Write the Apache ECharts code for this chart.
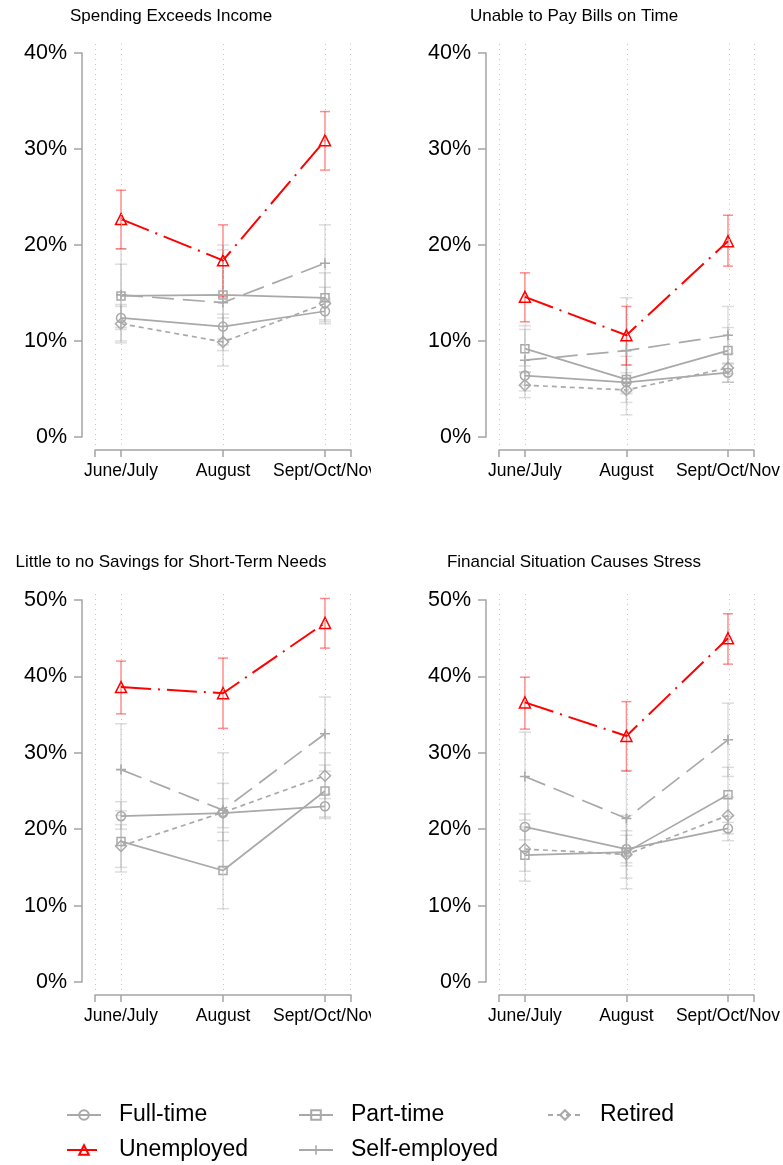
<!DOCTYPE html>
<html>
<head>
<meta charset="utf-8">
<script src="https://cdn.jsdelivr.net/npm/echarts@6/dist/echarts.min.js"></script>
<style>
  html, body { margin: 0; padding: 0; background: #fff; }
  #chart { width: 783px; height: 1165px; }
</style>
</head>
<body>
<div id="chart"></div>
<script>
// Survey waves (x positions 0, 1, 2)
const waves = ['June/July', 'August', 'Sept/Oct/Nov'];
const groups = ['Full-time', 'Part-time', 'Retired', 'Unemployed', 'Self-employed'];
const panelTitles = ['Spending Exceeds Income', 'Unable to Pay Bills on Time',
                     'Little to no Savings for Short-Term Needs', 'Financial Situation Causes Stress'];
const yTickMax = [40, 40, 50, 50];

// Spending Exceeds Income (% of group), with 95% interval bounds
const spendFullTime = [12.4, 11.5, 13.1];
const spendFullTimeLo = [11.2, 10.2, 11.8];
const spendFullTimeHi = [13.6, 12.8, 14.4];
const spendPartTime = [14.7, 14.8, 14.5];
const spendPartTimeLo = [11.4, 9.6, 12.0];
const spendPartTimeHi = [18.0, 20.0, 17.1];
const spendRetired = [11.8, 9.9, 13.9];
const spendRetiredLo = [9.8, 7.4, 12.2];
const spendRetiredHi = [13.8, 12.4, 15.6];
const spendUnemployed = [22.7, 18.4, 30.9];
const spendUnemployedLo = [19.6, 14.6, 27.8];
const spendUnemployedHi = [25.7, 22.1, 33.9];
const spendSelfEmployed = [14.8, 14.0, 18.1];
const spendSelfEmployedLo = [10.0, 9.0, 14.1];
const spendSelfEmployedHi = [19.6, 19.5, 22.1];

// Unable to Pay Bills on Time
const billsFullTime = [6.4, 5.7, 6.7];
const billsFullTimeLo = [5.4, 4.7, 5.7];
const billsFullTimeHi = [7.4, 6.7, 7.7];
const billsPartTime = [9.2, 6.0, 9.0];
const billsPartTimeLo = [6.8, 3.6, 6.6];
const billsPartTimeHi = [11.6, 8.4, 11.4];
const billsRetired = [5.4, 4.9, 7.2];
const billsRetiredLo = [4.1, 2.3, 5.7];
const billsRetiredHi = [6.7, 7.5, 8.7];
const billsUnemployed = [14.6, 10.6, 20.4];
const billsUnemployedLo = [12.0, 7.5, 17.8];
const billsUnemployedHi = [17.1, 13.6, 23.1];
const billsSelfEmployed = [8.0, 9.0, 10.6];
const billsSelfEmployedLo = [4.8, 4.5, 7.6];
const billsSelfEmployedHi = [11.2, 14.5, 13.6];

// Little to no Savings for Short-Term Needs
const savingsFullTime = [21.7, 22.1, 23.0];
const savingsFullTimeLo = [20.0, 20.2, 21.4];
const savingsFullTimeHi = [23.6, 24.0, 24.6];
const savingsPartTime = [18.4, 14.6, 25.0];
const savingsPartTimeLo = [14.4, 9.6, 21.6];
const savingsPartTimeHi = [22.4, 19.6, 28.4];
const savingsRetired = [17.8, 22.2, 27.0];
const savingsRetiredLo = [15.0, 18.5, 24.0];
const savingsRetiredHi = [20.6, 26.0, 30.0];
const savingsUnemployed = [38.6, 37.8, 47.0];
const savingsUnemployedLo = [35.1, 33.2, 43.7];
const savingsUnemployedHi = [42.0, 42.4, 50.2];
const savingsSelfEmployed = [27.8, 22.5, 32.5];
const savingsSelfEmployedLo = [21.8, 15.0, 27.6];
const savingsSelfEmployedHi = [33.8, 30.0, 37.3];

// Financial Situation Causes Stress
const stressFullTime = [20.3, 17.4, 20.1];
const stressFullTimeLo = [18.6, 15.6, 18.5];
const stressFullTimeHi = [22.0, 19.2, 21.7];
const stressPartTime = [16.6, 17.0, 24.5];
const stressPartTimeLo = [13.2, 12.2, 20.9];
const stressPartTimeHi = [20.0, 21.8, 28.1];
const stressRetired = [17.4, 16.7, 21.8];
const stressRetiredLo = [14.5, 13.6, 19.4];
const stressRetiredHi = [20.3, 19.8, 24.2];
const stressUnemployed = [36.6, 32.2, 45.0];
const stressUnemployedLo = [33.1, 27.6, 41.6];
const stressUnemployedHi = [39.9, 36.7, 48.2];
const stressSelfEmployed = [26.9, 21.4, 31.7];
const stressSelfEmployedLo = [21.2, 15.2, 26.9];
const stressSelfEmployedHi = [32.7, 27.7, 36.5];

const panelData = [
  { 'Full-time': [spendFullTime, spendFullTimeLo, spendFullTimeHi],
    'Part-time': [spendPartTime, spendPartTimeLo, spendPartTimeHi],
    'Retired': [spendRetired, spendRetiredLo, spendRetiredHi],
    'Unemployed': [spendUnemployed, spendUnemployedLo, spendUnemployedHi],
    'Self-employed': [spendSelfEmployed, spendSelfEmployedLo, spendSelfEmployedHi] },
  { 'Full-time': [billsFullTime, billsFullTimeLo, billsFullTimeHi],
    'Part-time': [billsPartTime, billsPartTimeLo, billsPartTimeHi],
    'Retired': [billsRetired, billsRetiredLo, billsRetiredHi],
    'Unemployed': [billsUnemployed, billsUnemployedLo, billsUnemployedHi],
    'Self-employed': [billsSelfEmployed, billsSelfEmployedLo, billsSelfEmployedHi] },
  { 'Full-time': [savingsFullTime, savingsFullTimeLo, savingsFullTimeHi],
    'Part-time': [savingsPartTime, savingsPartTimeLo, savingsPartTimeHi],
    'Retired': [savingsRetired, savingsRetiredLo, savingsRetiredHi],
    'Unemployed': [savingsUnemployed, savingsUnemployedLo, savingsUnemployedHi],
    'Self-employed': [savingsSelfEmployed, savingsSelfEmployedLo, savingsSelfEmployedHi] },
  { 'Full-time': [stressFullTime, stressFullTimeLo, stressFullTimeHi],
    'Part-time': [stressPartTime, stressPartTimeLo, stressPartTimeHi],
    'Retired': [stressRetired, stressRetiredLo, stressRetiredHi],
    'Unemployed': [stressUnemployed, stressUnemployedLo, stressUnemployedHi],
    'Self-employed': [stressSelfEmployed, stressSelfEmployedLo, stressSelfEmployedHi] }
];

// ---- layout & styling ----
const FONT = 'Liberation Sans, Arial, Helvetica, sans-serif';
const GRAY = '#a9a9a9';
const AXIS_GRAY = '#a4a4a4';
const RED = '#ff0000';
const X_MIN = -0.255, X_MAX = 2.255;
const guideXs = [X_MIN + 0.003, 0, 1, 2, X_MAX - 0.003];
const gridBoxes = [
  { left: 95,  top: 53,  height: 384, titleX: 171, titleTop: 6 },
  { left: 499, top: 53,  height: 384, titleX: 574, titleTop: 6 },
  { left: 95,  top: 600, height: 382, titleX: 171, titleTop: 552 },
  { left: 499, top: 600, height: 382, titleX: 574, titleTop: 552 }
];
const PLUS = 'path://M4.2,0H5.8V4.2H10V5.8H5.8V10H4.2V5.8H0V4.2H4.2Z';
const looks = {
  'Full-time':     { color: GRAY, symbol: 'circle',   size: 9,  dash: 'solid',       width: 1.7, hollow: true },
  'Part-time':     { color: GRAY, symbol: 'rect',     size: 8,  dash: 'solid',       width: 1.7, hollow: true },
  'Retired':       { color: GRAY, symbol: 'diamond',  size: 11, dash: [5, 4],        width: 1.7, hollow: true },
  'Unemployed':    { color: RED,  symbol: 'triangle', size: 11, dash: [30, 7, 2, 7], width: 2,   hollow: true },
  'Self-employed': { color: GRAY, symbol: PLUS,       size: 10, dash: [22, 9],       width: 1.7, hollow: false }
};

function errorBarRenderer(stroke, capHalf) {
  return function (params, api) {
    const x = api.value(0);
    const lo = api.coord([x, api.value(1)]);
    const hi = api.coord([x, api.value(2)]);
    const st = { stroke: stroke, lineWidth: 1.5 };
    return {
      type: 'group',
      children: [
        { type: 'line', shape: { x1: lo[0], y1: lo[1], x2: hi[0], y2: hi[1] }, style: st },
        { type: 'line', shape: { x1: lo[0] - capHalf, y1: lo[1], x2: lo[0] + capHalf, y2: lo[1] }, style: st },
        { type: 'line', shape: { x1: hi[0] - capHalf, y1: hi[1], x2: hi[0] + capHalf, y2: hi[1] }, style: st }
      ]
    };
  };
}

const grids = [], xAxes = [], yAxes = [], titles = [], series = [];

gridBoxes.forEach((g, i) => {
  grids.push({ left: g.left, top: g.top, width: 256, height: g.height });
  titles.push({
    text: panelTitles[i], left: g.titleX, top: g.titleTop, textAlign: 'center', padding: 0,
    textStyle: { fontFamily: FONT, fontSize: 17, fontWeight: 'normal', color: '#000', lineHeight: 20 }
  });
  xAxes.push({
    type: 'value', gridIndex: i, min: X_MIN, max: X_MAX, offset: 13,
    axisLine: { show: true, onZero: false, lineStyle: { color: AXIS_GRAY, width: 1.5 } },
    axisTick: { show: true, length: 7, customValues: [X_MIN, 0, 1, 2, X_MAX],
                lineStyle: { color: AXIS_GRAY, width: 1.5 } },
    axisLabel: { customValues: [0, 1, 2], formatter: v => waves[Math.round(v)] || '',
                 fontFamily: FONT, fontSize: 17.5, color: '#000', margin: 12 },
    splitLine: { show: false }
  });
  yAxes.push({
    type: 'value', gridIndex: i, min: 0, max: yTickMax[i], interval: 10, offset: 13,
    axisLine: { show: true, onZero: false, lineStyle: { color: AXIS_GRAY, width: 1.5 } },
    axisTick: { show: true, length: 8, lineStyle: { color: AXIS_GRAY, width: 1.5 } },
    axisLabel: { formatter: '{value}%', fontFamily: FONT, fontSize: 21.5, color: '#000', margin: 15 },
    splitLine: { show: false }
  });

  const pd = panelData[i];
  // confidence intervals
  groups.forEach(name => {
    const [vals, lo, hi] = pd[name];
    const isRed = name === 'Unemployed';
    series.push({
      type: 'custom', xAxisIndex: i, yAxisIndex: i, silent: true, z: isRed ? 2 : 1,
      renderItem: errorBarRenderer(isRed ? 'rgba(255,0,0,0.45)' : 'rgba(150,150,150,0.32)', isRed ? 5 : 6),
      encode: { x: 0, y: [1, 2] },
      data: vals.map((v, k) => [k, lo[k], hi[k]])
    });
  });
  // point estimates
  groups.forEach(name => {
    const [vals] = pd[name];
    const L = looks[name];
    series.push({
      type: 'line', name: name, xAxisIndex: i, yAxisIndex: i, z: name === 'Unemployed' ? 4 : 3,
      data: vals.map((v, k) => [k, v]),
      symbol: L.symbol, symbolSize: L.size, showAllSymbol: true,
      lineStyle: { color: L.color, width: L.width, type: L.dash },
      itemStyle: L.hollow
        ? { color: 'rgba(255,255,255,0)', borderColor: L.color, borderWidth: 1.5 }
        : { color: L.color, borderWidth: 0 },
      emphasis: { disabled: true }
    });
  });
});

// dotted vertical guides: a hidden grid per panel spanning the whole plot region
gridBoxes.forEach((g, i) => {
  const gi = gridBoxes.length + i;
  grids.push({ left: g.left, top: g.top - 10, width: 256, height: g.height + 18 });
  xAxes.push({ type: 'value', gridIndex: gi, min: X_MIN, max: X_MAX, show: false });
  yAxes.push({ type: 'value', gridIndex: gi, min: 0, max: 1, show: false });
  series.push({
    type: 'line', xAxisIndex: gi, yAxisIndex: gi, data: [], silent: true, z: 0,
    markLine: {
      silent: true, symbol: 'none', animation: false, label: { show: false },
      lineStyle: { type: [1, 4], color: '#c4c4c4', width: 1 },
      data: guideXs.map(v => ({ xAxis: v }))
    }
  });
});

// legend: three columns, two rows
const legendSlots = [
  ['Full-time', 66, 1103], ['Part-time', 298, 1103], ['Retired', 547, 1103],
  ['Unemployed', 66, 1138], ['Self-employed', 298, 1138]
];
const legends = legendSlots.map(([name, left, top]) => {
  const leg = {
    data: [name], left: left, top: top, orient: 'horizontal', padding: 0,
    itemWidth: 34, itemHeight: 12, selectedMode: false,
    textStyle: { fontFamily: FONT, fontSize: 23, color: '#000', lineHeight: 24, padding: [0, 0, 0, 13] }
  };
  if (name === 'Self-employed') leg.lineStyle = { type: 'solid' };
  return leg;
});

const option = {
  animation: false,
  backgroundColor: '#fff',
  title: titles,
  grid: grids,
  xAxis: xAxes,
  yAxis: yAxes,
  legend: legends,
  series: series,
  graphic: [
    // the right-hand wave label of the left column is cut off at the panel edge
    { type: 'rect', left: 371, top: 458, shape: { width: 40, height: 30 }, style: { fill: '#fff' }, z: 100 },
    { type: 'rect', left: 371, top: 1004, shape: { width: 40, height: 30 }, style: { fill: '#fff' }, z: 100 }
  ]
};

const chart = echarts.init(document.getElementById('chart'), null, { renderer: 'canvas' });
chart.setOption(option);
</script>
</body>
</html>
